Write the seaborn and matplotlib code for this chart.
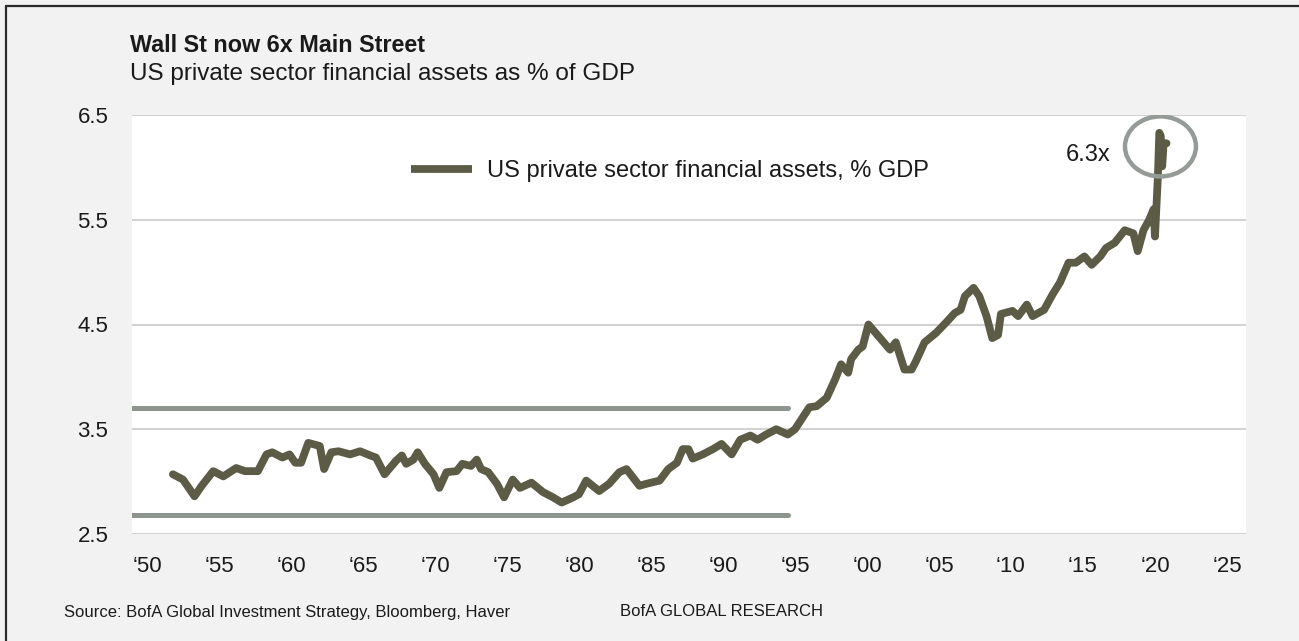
import matplotlib
matplotlib.use("Agg")
import matplotlib.pyplot as plt
import seaborn as sns
import pandas as pd
from matplotlib.patches import Ellipse
from matplotlib.lines import Line2D

# ---- data ----
years = [1951.8, 1952.5, 1953.3, 1953.8, 1954.6, 1955.3, 1956.2, 1956.8, 1957.7, 1958.3,
         1958.7, 1959.4, 1959.9, 1960.3, 1960.7, 1961.2, 1962.0, 1962.3, 1962.8, 1963.3,
         1964.1, 1964.8, 1965.5, 1965.9, 1966.5, 1967.3, 1967.7,
         1968.0, 1968.5, 1968.8, 1969.3, 1969.9, 1970.3, 1970.8, 1971.5, 1971.9, 1972.5,
         1972.9, 1973.2, 1973.7, 1974.3, 1974.8, 1975.4, 1975.9, 1976.7, 1977.5, 1978.2,
         1978.8, 1979.6, 1980.0, 1980.5, 1981.4, 1982.1, 1982.8, 1983.3, 1984.2, 1984.7,
         1985.6, 1986.2, 1986.8, 1987.2, 1987.6, 1987.9, 1988.6, 1989.3, 1989.9, 1990.6,
         1991.2, 1991.9, 1992.4, 1993.0, 1993.7, 1994.5, 1995.0,
         1996.0, 1996.5, 1997.2, 1997.8, 1998.2, 1998.7, 1998.9, 1999.4, 1999.7, 2000.1,
         2000.6, 2001.1, 2001.6, 2002.0, 2002.6, 2003.1, 2003.4, 2004.0, 2004.8, 2005.5,
         2006.1, 2006.5, 2006.8, 2007.4, 2007.8, 2008.3, 2008.7, 2009.1,
         2009.3, 2010.1, 2010.5, 2011.1, 2011.5, 2012.3, 2012.9, 2013.4, 2014.0, 2014.5,
         2015.1, 2015.6, 2016.2, 2016.6, 2017.2, 2017.9, 2018.5, 2018.8, 2019.2, 2019.6,
         2019.9, 2020.0, 2020.2, 2020.3, 2020.4, 2020.5, 2020.6, 2020.8]
values = [3.07, 3.02, 2.86, 2.96, 3.10, 3.05, 3.13, 3.10, 3.10, 3.26,
          3.28, 3.23, 3.26, 3.18, 3.18, 3.37, 3.34, 3.12, 3.28, 3.29,
          3.26, 3.29, 3.25, 3.23, 3.07, 3.20, 3.25,
          3.17, 3.21, 3.28, 3.17, 3.07, 2.94, 3.09, 3.10, 3.17, 3.15,
          3.21, 3.12, 3.09, 2.98, 2.85, 3.02, 2.94, 2.99, 2.90, 2.85,
          2.80, 2.85, 2.88, 3.01, 2.91, 2.98, 3.09, 3.12, 2.96, 2.98,
          3.01, 3.12, 3.18, 3.31, 3.31, 3.22, 3.26, 3.31, 3.36, 3.26,
          3.40, 3.44, 3.40, 3.45, 3.50, 3.45, 3.50,
          3.71, 3.72, 3.80, 3.98, 4.12, 4.04, 4.17, 4.26, 4.29, 4.50,
          4.42, 4.34, 4.26, 4.33, 4.07, 4.07, 4.15, 4.33, 4.42, 4.52,
          4.61, 4.64, 4.77, 4.85, 4.77, 4.58, 4.37, 4.40,
          4.60, 4.63, 4.58, 4.69, 4.58, 4.64, 4.79, 4.90, 5.09, 5.09,
          5.15, 5.07, 5.15, 5.23, 5.28, 5.40, 5.37, 5.20, 5.40, 5.50,
          5.60, 5.34, 5.91, 6.33, 6.30, 6.01, 6.23, 6.23]

band_start, band_end = 1948.96, 1994.5
band_levels = [3.70, 2.68]

y_ticks = [2.5, 3.5, 4.5, 5.5, 6.5]
x_ticks = list(range(1950, 2026, 5))
x_tick_labels = ["\u2018" + f"{y % 100:02d}" for y in x_ticks]

series_label = "US private sector financial assets, % GDP"
title = "Wall St now 6x Main Street"
subtitle = "US private sector financial assets as % of GDP"
source = "Source: BofA Global Investment Strategy, Bloomberg, Haver"
brand = "BofA GLOBAL RESEARCH"
peak_label = "6.3x"

LINE = "#5c5b45"
BAND = "#8e958f"
CIRCLE = "#959c97"
GRID = "#d3d3d3"
BG = "#f2f2f2"
TXT = "#1a1a1a"

sns.set_theme(style="white")
plt.rcParams["font.family"] = ["Liberation Sans", "DejaVu Sans"]

W, H = 1299, 641
fig = plt.figure(figsize=(W / 100, H / 100), dpi=100, facecolor=BG)
ax = fig.add_axes([132 / W, 1 - 534 / H, (1246 - 132) / W, (534 - 115) / H])
ax.set_facecolor("white")

df = pd.DataFrame({"year": years, "value": values})

for lv in band_levels:
    ax.plot([band_start, band_end], [lv, lv], color=BAND, lw=3.6, solid_capstyle="butt", zorder=2)

sns.lineplot(data=df, x="year", y="value", ax=ax, color=LINE, linewidth=5.6,
             label=series_label, zorder=3, sort=False)
for l in ax.get_lines():
    l.set_solid_joinstyle("round")
    l.set_solid_capstyle("round")

ax.add_patch(Ellipse((2020.38, 6.2), 4.93, 0.573, fill=False, edgecolor=CIRCLE, lw=3.2, zorder=4))
ax.text(2016.9, 6.12, peak_label, ha="right", va="center", fontsize=17, color=TXT)

ax.set_xlim(1948.96, 2026.32)
ax.set_ylim(2.5, 6.5)
ax.set_yticks(y_ticks)
ax.set_yticklabels([f"{v:.1f}" for v in y_ticks])
ax.set_xticks(x_ticks)
ax.set_xticklabels(x_tick_labels)
ax.tick_params(axis="both", length=0, labelsize=16, colors=TXT)
ax.tick_params(axis="y", pad=17)
ax.tick_params(axis="x", pad=16)
ax.set_xlabel("")
ax.set_ylabel("")
ax.yaxis.grid(True, color=GRID, lw=1.5, zorder=0)
ax.xaxis.grid(False)
for s in ax.spines.values():
    s.set_visible(False)

leg = ax.legend(loc="center left", bbox_to_anchor=((411 - 132) / 1114, (534 - 171) / 419),
                frameon=False, borderpad=0, borderaxespad=0, handlelength=2.58,
                handletextpad=0.64, fontsize=17)
for t in leg.get_texts():
    t.set_color(TXT)
for h in leg.legend_handles:
    h.set_linewidth(5.6)
    h.set_solid_capstyle("butt")

fig.text(130 / W, 1 - 46 / H, title, fontsize=16.8, fontweight="bold", ha="left", va="center", color=TXT)
fig.text(130 / W, 1 - 74 / H, subtitle, fontsize=17.5, ha="left", va="center", color=TXT)
fig.text(64 / W, 1 - 612 / H, source, fontsize=12, ha="left", va="center", color=TXT)
fig.text(620 / W, 1 - 612 / H, brand, fontsize=12, ha="left", va="center", color=TXT)

# frame at top and left edges, as in the reference
fig.add_artist(Line2D([6 / W, 6 / W], [0, 1 - 6 / H], color="#2a2a2a", lw=1.6, transform=fig.transFigure))
fig.add_artist(Line2D([6 / W, 1], [1 - 6 / H, 1 - 6 / H], color="#2a2a2a", lw=1.6, transform=fig.transFigure))

fig.savefig("out.png", dpi=100, facecolor=BG)
